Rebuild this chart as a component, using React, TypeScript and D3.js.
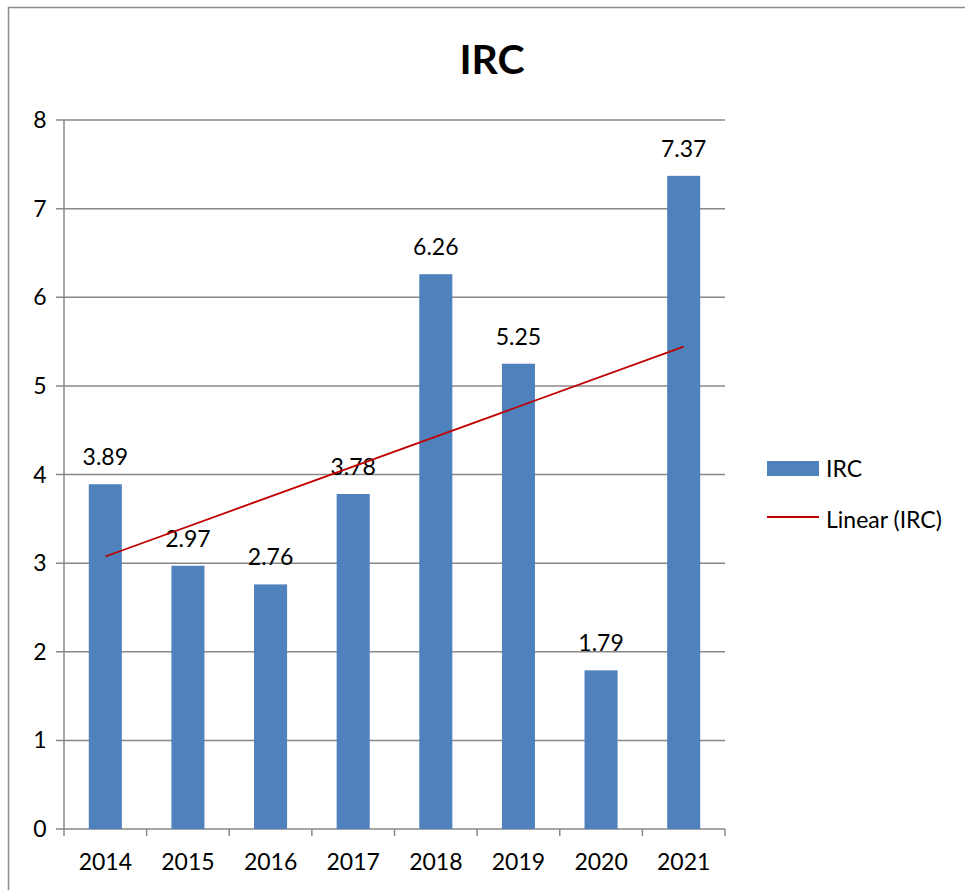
import React from "react";
import * as d3 from "d3";

const categories = ["2014", "2015", "2016", "2017", "2018", "2019", "2020", "2021"];
const values = [3.89, 2.97, 2.76, 3.78, 6.26, 5.25, 1.79, 7.37];
const yTicks = [0, 1, 2, 3, 4, 5, 6, 7, 8];
const seriesName = "IRC";
const trendName = "Linear (IRC)";
const title = "IRC";

const W = 965, H = 890;
const left = 64, right = 725, top = 120, bottom = 829;
const FONT = "Lato, 'Open Sans', sans-serif";
const BLUE = "#4F81BD";
const RED = "#C00000";
const GRID = "#888888";
const FS = 23;

export default function App() {
  const x = d3.scaleBand<string>().domain(categories).range([left, right]).paddingInner(0.6).paddingOuter(0.3);
  const xb = d3.scaleBand<string>().domain(categories).range([left, right]);
  const y = d3.scaleLinear().domain([0, 8]).range([bottom, top]);

  // linear regression trend
  const n = values.length;
  const xs = values.map((_, i) => i + 1);
  const mx = d3.mean(xs)!;
  const my = d3.mean(values)!;
  const slope = d3.sum(xs.map((xi, i) => (xi - mx) * (values[i] - my))) / d3.sum(xs.map((xi) => (xi - mx) ** 2));
  const icpt = my - slope * mx;
  const trendPts: [number, number][] = [1, n].map((xi) => [
    xb(categories[xi - 1])! + xb.bandwidth() / 2,
    y(icpt + slope * xi),
  ]);
  const line = d3.line();

  const boundaries = categories.map((c) => xb(c)!).concat([right]);

  return (
    <svg width={W} height={H} style={{ position: "absolute", left: 0, top: 0 }} fontFamily={FONT}>
      <rect x={0} y={0} width={W} height={H} fill="#fff" />
      <rect x={8.5} y={7.5} width={2000} height={2000} fill="none" stroke="#8c8c8c" strokeWidth={1.5} />
      <text x={492} y={74} textAnchor="middle" fontSize={41} fontWeight="bold" fill="#000">{title}</text>
      {yTicks.map((t) => (
        <g key={t}>
          <line x1={left - 8} x2={right} y1={y(t)} y2={y(t)} stroke={GRID} strokeWidth={1.5} />
          <text x={40} y={y(t) + 8} textAnchor="middle" fontSize={FS} fill="#000">{t}</text>
        </g>
      ))}
      <line x1={left} x2={left} y1={top} y2={bottom} stroke={GRID} strokeWidth={1.5} />
      {boundaries.map((b, i) => (
        <line key={i} x1={b} x2={b} y1={bottom} y2={bottom + 7} stroke={GRID} strokeWidth={1.5} />
      ))}
      {categories.map((c, i) => (
        <g key={c}>
          <rect x={x(c)} y={y(values[i])} width={x.bandwidth()} height={y(0) - y(values[i])} fill={BLUE} />
          <text x={x(c)! + x.bandwidth() / 2} y={y(values[i]) - 19} textAnchor="middle" fontSize={FS} fill="#000">
            {values[i].toFixed(2)}
          </text>
          <text x={xb(c)! + xb.bandwidth() / 2} y={870} textAnchor="middle" fontSize={FS} fill="#000">{c}</text>
        </g>
      ))}
      <path d={line(trendPts)!} stroke={RED} strokeWidth={1.8} fill="none" />
      <rect x={767} y={461} width={52} height={15} fill={BLUE} />
      <text x={826} y={477} fontSize={FS} fill="#000">{seriesName}</text>
      <line x1={767} x2={819} y1={517} y2={517} stroke={RED} strokeWidth={1.8} />
      <text x={826} y={528} fontSize={FS} fill="#000">{trendName}</text>
    </svg>
  );
}
